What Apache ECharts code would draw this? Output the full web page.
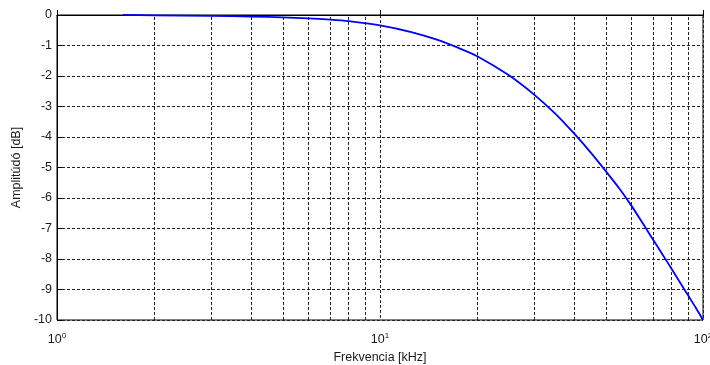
<!DOCTYPE html>
<html>
<head>
<meta charset="utf-8">
<script src="https://cdn.jsdelivr.net/npm/echarts@6/dist/echarts.min.js"></script>
<style>
  html, body { margin: 0; padding: 0; background: #fff; }
  #chart { width: 710px; height: 365px; }
</style>
</head>
<body>
<div id="chart"></div>
<script>
// Frequency response of the filter (frequency in kHz, amplitude in dB)
const freqKHz = [1.6, 2, 3, 4, 5, 6, 7, 8, 10, 12.5, 15, 17.5, 20, 25, 30, 35, 40, 45, 50, 55, 60, 65, 70, 75, 80, 85, 90, 95, 100];
const amplitudeDb = [0, -0.01, -0.03, -0.05, -0.08, -0.11, -0.15, -0.2, -0.34, -0.56, -0.81, -1.08, -1.35, -1.97, -2.61, -3.25, -3.9, -4.52, -5.12, -5.68, -6.25, -6.82, -7.36, -7.86, -8.33, -8.78, -9.2, -9.6, -10];

// Intermediate decade lines of the logarithmic frequency axis
const minorGridFreqs = [2, 3, 4, 5, 6, 7, 8, 9, 20, 30, 40, 50, 60, 70, 80, 90];

const FONT = '"Liberation Sans", Arial, sans-serif';
const TEXT = '#1a1a1a';
const gridDash = { color: '#222', width: 1, type: [3, 2] };

const chart = echarts.init(document.getElementById('chart'), null, { renderer: 'canvas' });

chart.setOption({
  animation: false,
  backgroundColor: '#fff',
  grid: {
    left: 57, right: 7, top: 15, bottom: 45,
    outerBoundsMode: 'none',
    containLabel: false,
    show: true, borderColor: '#000', borderWidth: 1, backgroundColor: 'transparent'
  },
  xAxis: {
    type: 'log',
    logBase: 10,
    min: 1,
    max: 100,
    name: 'Frekvencia [kHz]',
    nameLocation: 'middle',
    nameGap: 29,
    nameTextStyle: { fontFamily: FONT, fontSize: 12.5, color: TEXT },
    axisLine: { show: true, lineStyle: { color: '#000', width: 1 } },
    axisTick: { show: true, inside: true, length: 5, lineStyle: { color: '#000' } },
    splitLine: { show: true, lineStyle: gridDash },
    axisLabel: {
      margin: 12,
      hideOverlap: false,
      formatter: v => '{b|10}{s|' + Math.round(Math.log10(v)) + '}',
      rich: {
        b: { fontFamily: FONT, fontSize: 12.5, color: TEXT, verticalAlign: 'bottom' },
        s: { fontFamily: FONT, fontSize: 8, color: TEXT, verticalAlign: 'bottom', padding: [0, 0, 6, 0] }
      }
    }
  },
  yAxis: {
    type: 'value',
    min: -10,
    max: 0,
    interval: 1,
    name: 'Amplitúdó [dB]',
    nameLocation: 'middle',
    nameGap: 30,
    nameTextStyle: { fontFamily: FONT, fontSize: 12.5, color: TEXT },
    axisLine: { show: true, lineStyle: { color: '#000', width: 1 } },
    axisTick: { show: true, inside: true, length: 5, lineStyle: { color: '#000' } },
    splitLine: { show: true, lineStyle: gridDash },
    axisLabel: { margin: 5, fontFamily: FONT, fontSize: 12.5, color: TEXT }
  },
  series: [
    {
      type: 'line',
      data: [],
      silent: true,
      markLine: {
        z: 1,
        silent: true,
        symbol: 'none',
        label: { show: false },
        lineStyle: gridDash,
        data: minorGridFreqs.map(f => ({ xAxis: f }))
      }
    },
    {
      type: 'line',
      data: freqKHz.map((f, i) => [f, amplitudeDb[i]]),
      showSymbol: false,
      smooth: 0.25,
      lineStyle: { color: '#0000ff', width: 1.8 },
      z: 3
    }
  ]
});
</script>
</body>
</html>
